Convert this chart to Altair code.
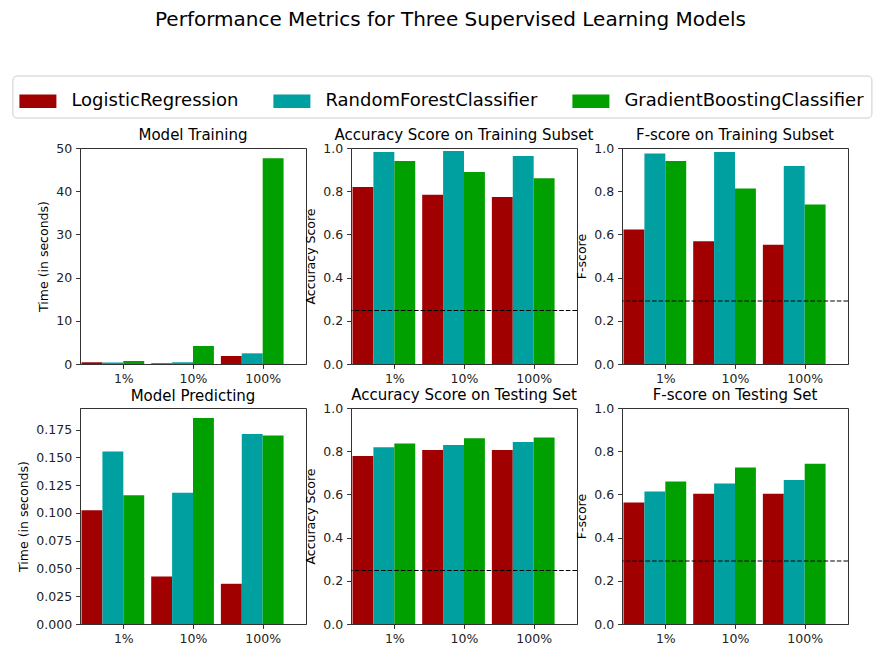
import json
import altair as alt
import pandas as pd

# ---------------- data ----------------
models = ["LogisticRegression", "RandomForestClassifier", "GradientBoostingClassifier"]
colors = ["#A00000", "#00A0A0", "#00A000"]
sizes = ["1%", "10%", "100%"]

# one list per model: [LR, RF, GB], each with values for 1%, 10%, 100%
train_time = [[0.40, 0.15, 1.85], [0.35, 0.40, 2.47], [0.70, 4.17, 47.6]]
acc_train = [[0.819, 0.784, 0.773], [0.981, 0.986, 0.963], [0.940, 0.889, 0.860]]
f_train = [[0.623, 0.568, 0.552], [0.975, 0.981, 0.917], [0.940, 0.813, 0.738]]
pred_time = [[0.1023, 0.0428, 0.0362], [0.1553, 0.1182, 0.1711], [0.1158, 0.1855, 0.1696]]
acc_test = [[0.778, 0.806, 0.806], [0.818, 0.829, 0.843], [0.836, 0.860, 0.864]]
f_test = [[0.563, 0.603, 0.603], [0.614, 0.650, 0.667], [0.660, 0.725, 0.742]]

naive_accuracy = 0.2478
naive_fscore = 0.2917

panel_titles = ["Model Training", "Accuracy Score on Training Subset", "F-score on Training Subset",
                "Model Predicting", "Accuracy Score on Testing Set", "F-score on Testing Set"]
y_titles = ["Time (in seconds)", "Accuracy Score", "F-score",
            "Time (in seconds)", "Accuracy Score", "F-score"]
suptitle = "Performance Metrics for Three Supervised Learning Models"

# ---------------- layout / style ----------------
BAR_W = 0.3
PW, PH = 226, 216
FONT = "DejaVu Sans"

metrics = [train_time, acc_train, f_train, pred_time, acc_test, f_test]
naives = [None, naive_accuracy, naive_fscore, None, naive_accuracy, naive_fscore]
y_domains = [[0, 50], [0, 1], [0, 1], [0, 0.1944], [0, 1], [0, 1]]
y_ticks = [[0, 10, 20, 30, 40, 50], [0, 0.2, 0.4, 0.6, 0.8, 1.0], [0, 0.2, 0.4, 0.6, 0.8, 1.0],
           [0, 0.025, 0.05, 0.075, 0.1, 0.125, 0.15, 0.175], [0, 0.2, 0.4, 0.6, 0.8, 1.0],
           [0, 0.2, 0.4, 0.6, 0.8, 1.0]]
y_formats = ["d", ".1f", ".1f", ".3f", ".1f", ".1f"]
# panels whose top tick label sits on the frame need a smaller title offset
title_offsets = [-0.6, -0.6, -0.6, 4.5, -0.6, -0.6]

label_expr = json.dumps(sizes) + "[floor(datum.value)]"

legend = alt.Legend(
    title=None, orient="none", direction="horizontal", columns=3,
    legendX=-67.6, legendY=-72.5,
    symbolType="M-1,-0.365H1V0.365H-1Z", symbolSize=1369, symbolStrokeWidth=0,
    symbolOpacity=1, labelFontSize=18, labelFont=FONT, labelColor="black", labelLimit=0,
    labelOffset=15, columnPadding=35, padding=7,
    strokeColor="#cccccc", fillColor="white", cornerRadius=4,
)


def panel(i):
    rows = []
    for mi, m in enumerate(models):
        for gi, s in enumerate(sizes):
            rows.append({"model": m, "mi": mi, "size": s, "gi": gi, "value": metrics[i][mi][gi]})
    d = pd.DataFrame(rows)
    bars = alt.Chart(d).transform_calculate(
        x0=f"datum.gi + datum.mi * {BAR_W} - {BAR_W / 2}",
        x1=f"datum.gi + datum.mi * {BAR_W} + {BAR_W / 2}",
    ).mark_bar(clip=True, orient="vertical").encode(
        x=alt.X("x0:Q", scale=alt.Scale(domain=[-0.1, 3.0], nice=False, zero=False),
                axis=alt.Axis(values=[0.45, 1.45, 2.45], labelExpr=label_expr, title=None)),
        x2="x1:Q",
        y=alt.Y("value:Q", scale=alt.Scale(domain=y_domains[i], nice=False, zero=True),
                axis=alt.Axis(values=y_ticks[i], format=y_formats[i], title=y_titles[i])),
        y2=alt.datum(0),
        color=alt.Color("model:N", scale=alt.Scale(domain=models, range=colors), legend=legend),
    )
    layers = [bars]
    if naives[i] is not None:
        rule = alt.Chart(pd.DataFrame({"v": [naives[i]]})).mark_rule(
            color="black", strokeDash=[4.6, 2], strokeWidth=1.2
        ).encode(y=alt.datum(naives[i]))
        layers.append(rule)
    return alt.layer(*layers).properties(
        width=PW, height=PH,
        title=alt.TitleParams(panel_titles[i], fontSize=15, offset=title_offsets[i]),
    )


chart = alt.concat(
    *[panel(i) for i in range(6)], columns=3, bounds="flush",
    spacing={"row": 44, "column": 45},
).properties(
    title=alt.TitleParams(suptitle, fontSize=20, anchor="start", frame="group", dx=75, offset=45.5),
    padding={"left": 3, "top": 1, "right": 5, "bottom": 5},
).configure_view(
    stroke="#333333", strokeWidth=1
).configure_axis(
    domainColor="#333333", tickColor="#333333", tickSize=4.4, tickWidth=1, labelPadding=4,
    labelFontSize=12.5, labelFont=FONT, labelColor="#222222", grid=False, zindex=1,
    titleFontSize=12.5, titleFont=FONT, titleFontWeight="normal", titleColor="black", titlePadding=5,
).configure_title(
    font=FONT, fontWeight="normal", color="black"
)

chart.save("out.html", embed_options={"renderer": "svg", "actions": False})
